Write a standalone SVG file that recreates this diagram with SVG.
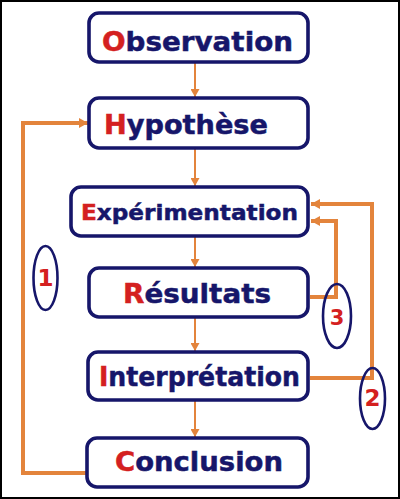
<svg xmlns="http://www.w3.org/2000/svg" width="400" height="499" viewBox="0 0 400 499">
<defs>
<style>
.box{fill:#fff;stroke:#16166a;stroke-width:3.6}
.lbl{font-family:"DejaVu Sans",Verdana,sans-serif;font-weight:bold;font-size:27px;fill:#16166a;stroke:#16166a;stroke-width:0.5}
.ini{fill:#d42020;stroke:#d42020}
.num{font-family:"DejaVu Sans",Verdana,sans-serif;font-weight:bold;font-size:23px;fill:#d42020;text-anchor:middle}
.thin{fill:none;stroke:#e3843c;stroke-width:2}
.thick{fill:none;stroke:#e3843c;stroke-width:4}
.oval{fill:none;stroke:#16166a;stroke-width:2.6}
</style>
<marker id="ah" markerUnits="userSpaceOnUse" markerWidth="10" markerHeight="10" refX="9" refY="5" orient="auto">
<path d="M0,0 L9,5 L0,10 Z" fill="#e3843c"/>
</marker>
<marker id="ahs" markerUnits="userSpaceOnUse" markerWidth="9" markerHeight="9" refX="8" refY="4.5" orient="auto">
<path d="M0,0 L8,4.5 L0,9 Z" fill="#e3843c"/>
</marker>
</defs>
<rect x="1" y="1" width="398" height="497" fill="#fff" stroke="#000" stroke-width="2"/>
<g id="connectors">
<line class="thin" x1="195" y1="63" x2="195" y2="97" marker-end="url(#ahs)"/>
<line class="thin" x1="195" y1="149" x2="195" y2="186" marker-end="url(#ahs)"/>
<line class="thin" x1="195" y1="237" x2="195" y2="267" marker-end="url(#ahs)"/>
<line class="thin" x1="195" y1="318" x2="195" y2="351" marker-end="url(#ahs)"/>
<line class="thin" x1="195" y1="401" x2="195" y2="437" marker-end="url(#ahs)"/>
<polyline class="thick" points="87,473 23,473 23,123 88,123" marker-end="url(#ah)"/>
<polyline class="thick" points="310,297 336,297 336,221 311,221" marker-end="url(#ah)"/>
<polyline class="thick" points="310,378 372,378 372,204 311,204" marker-end="url(#ah)"/>
</g>
<g id="n1"><rect class="box" x="89" y="13" width="219" height="49" rx="10"/>
<text class="lbl" x="102" y="51" textLength="191" lengthAdjust="spacingAndGlyphs"><tspan class="ini">O</tspan>bservation</text></g>
<g id="n2"><rect class="box" x="89" y="98" width="219" height="50" rx="10"/>
<text class="lbl" x="104" y="134" textLength="164" lengthAdjust="spacingAndGlyphs"><tspan class="ini">H</tspan>ypothèse</text></g>
<g id="n3"><rect class="box" x="71" y="187" width="237" height="49" rx="10"/>
<text class="lbl" x="81" y="220" style="font-size:22px" textLength="217" lengthAdjust="spacingAndGlyphs"><tspan class="ini">E</tspan>xpérimentation</text></g>
<g id="n4"><rect class="box" x="89" y="268" width="219" height="49" rx="10"/>
<text class="lbl" x="123" y="303" textLength="148" lengthAdjust="spacingAndGlyphs"><tspan class="ini">R</tspan>ésultats</text></g>
<g id="n5"><rect class="box" x="88" y="352" width="220" height="48" rx="10"/>
<text class="lbl" x="99" y="386" textLength="201" lengthAdjust="spacingAndGlyphs"><tspan class="ini">I</tspan>nterprétation</text></g>
<g id="n6"><rect class="box" x="87" y="438" width="221" height="49" rx="10"/>
<text class="lbl" x="115" y="471" textLength="168" lengthAdjust="spacingAndGlyphs"><tspan class="ini">C</tspan>onclusion</text></g>
<g id="m1"><ellipse class="oval" cx="45.5" cy="278" rx="12" ry="32"/><text class="num" x="45.5" y="286">1</text></g>
<g id="m3"><ellipse class="oval" cx="337" cy="316" rx="14" ry="32"/><text class="num" x="337" y="325" style="font-size:21px">3</text></g>
<g id="m2"><ellipse class="oval" cx="372.5" cy="398.5" rx="12.5" ry="30.5"/><text class="num" x="372.5" y="406">2</text></g>
</svg>
